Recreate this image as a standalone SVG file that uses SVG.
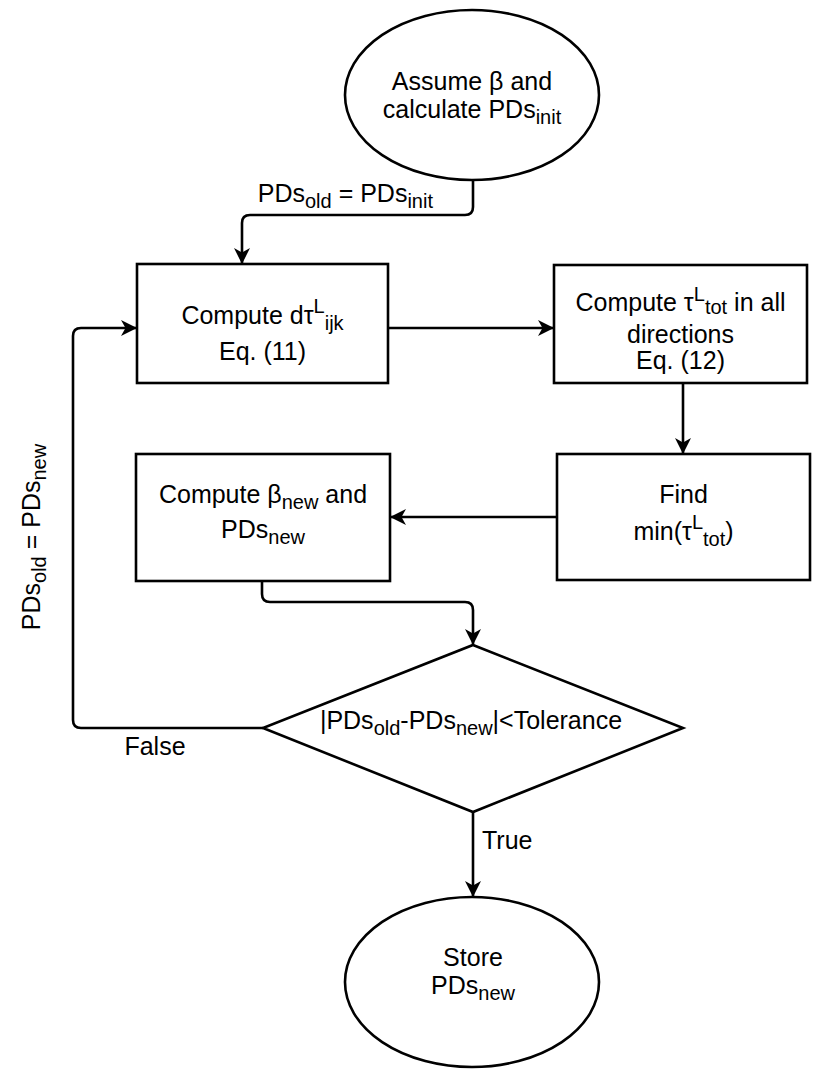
<svg xmlns="http://www.w3.org/2000/svg" width="830" height="1082" viewBox="0 0 830 1082">
<style>
.shape{fill:#fff;stroke:#000;stroke-width:2.6}
.edge{fill:none;stroke:#000;stroke-width:2.6;stroke-linejoin:round}
text{font-family:"Liberation Sans",Arial,sans-serif;font-size:25px;fill:#000}
.s{font-size:20px}
</style>
<defs>
<marker id="arr" markerUnits="userSpaceOnUse" markerWidth="18" markerHeight="16" refX="15" refY="8" orient="auto">
<path d="M0,0 L16,8 L0,16 L4.5,8 z" fill="#000"/>
</marker>
</defs>
<g id="connectors">
<path class="edge" d="M473,180 L473,207 Q473,215 465,215 L250,215 Q242,215 242,223 L242,263" marker-end="url(#arr)"/>
<path class="edge" d="M388,328 L553,328" marker-end="url(#arr)"/>
<path class="edge" d="M683,383 L683,453" marker-end="url(#arr)"/>
<path class="edge" d="M557,517 L391,517" marker-end="url(#arr)"/>
<path class="edge" d="M262,581 L262,594 Q262,602 270,602 L465,602 Q473,602 473,610 L473,644" marker-end="url(#arr)"/>
<path class="edge" d="M263,728 L81,728 Q73,728 73,720 L73,336 Q73,328 81,328 L136,328" marker-end="url(#arr)"/>
<path class="edge" d="M473,812 L473,896" marker-end="url(#arr)"/>
<text x="433" y="202" text-anchor="end">PDs<tspan class="s" dy="6">old</tspan><tspan dy="-6"> = PDs</tspan><tspan class="s" dy="6">init</tspan></text>
<text x="155" y="755" text-anchor="middle">False</text>
<text x="482" y="849">True</text>
<text transform="translate(40,537) rotate(-90)" text-anchor="middle">PDs<tspan class="s" dy="6">old</tspan><tspan dy="-6"> = PDs</tspan><tspan class="s" dy="6">new</tspan></text>
</g>
<g id="start">
<ellipse class="shape" cx="472" cy="95" rx="127" ry="85"/>
<text x="472" y="90" text-anchor="middle">Assume β and</text>
<text x="472" y="118" text-anchor="middle">calculate PDs<tspan class="s" dy="6">init</tspan></text>
</g>
<g id="compute-dtau">
<rect class="shape" x="137" y="264" width="251" height="119"/>
<text x="262.5" y="324" text-anchor="middle">Compute dτ<tspan class="s" dy="-11">L</tspan><tspan class="s" dy="17">ijk</tspan></text>
<text x="262.5" y="360" text-anchor="middle">Eq. (11)</text>
</g>
<g id="compute-tau">
<rect class="shape" x="554" y="265" width="253" height="118"/>
<text x="680.5" y="311" text-anchor="middle">Compute τ<tspan class="s" dy="-10">L</tspan><tspan class="s" dy="13">tot</tspan><tspan dy="-3"> in all</tspan></text>
<text x="680.5" y="343" text-anchor="middle">directions</text>
<text x="680.5" y="369" text-anchor="middle">Eq. (12)</text>
</g>
<g id="find-min">
<rect class="shape" x="557" y="454" width="253" height="126"/>
<text x="683.5" y="503" text-anchor="middle">Find</text>
<text x="683.5" y="540" text-anchor="middle">min(τ<tspan class="s" dy="-11">L</tspan><tspan class="s" dy="17">tot</tspan><tspan dy="-6">)</tspan></text>
</g>
<g id="compute-beta">
<rect class="shape" x="136" y="454" width="254" height="127"/>
<text x="263" y="503" text-anchor="middle">Compute β<tspan class="s" dy="6">new</tspan><tspan dy="-6"> and</tspan></text>
<text x="263" y="538" text-anchor="middle">PDs<tspan class="s" dy="6">new</tspan></text>
</g>
<g id="decision">
<polygon class="shape" points="473,645 683,728 473,812 263,728"/>
<text x="471" y="729" text-anchor="middle">|PDs<tspan class="s" dy="6">old</tspan><tspan dy="-6">-PDs</tspan><tspan class="s" dy="6">new</tspan><tspan dy="-6">|&lt;Tolerance</tspan></text>
</g>
<g id="end">
<ellipse class="shape" cx="472" cy="982" rx="127" ry="85"/>
<text x="473" y="966" text-anchor="middle">Store</text>
<text x="473" y="994" text-anchor="middle">PDs<tspan class="s" dy="6">new</tspan></text>
</g>
</svg>
